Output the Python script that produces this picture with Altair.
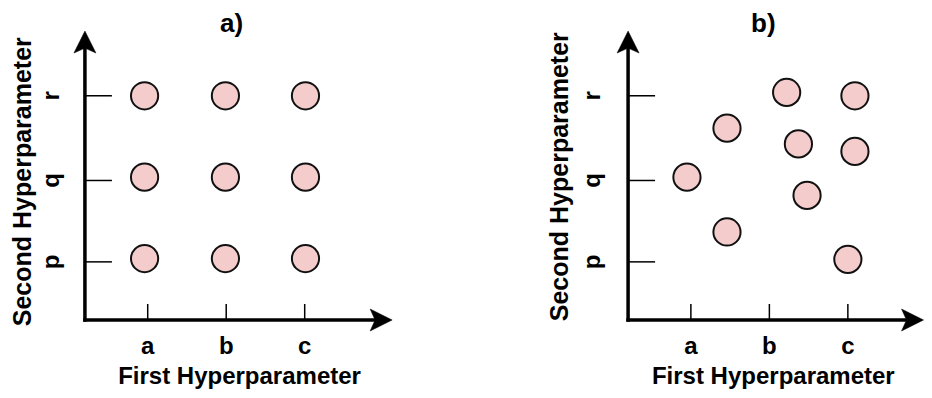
import altair as alt
import pandas as pd

# ---------------- data ----------------
panel_titles = ["a)", "b)"]
x_title = "First Hyperparameter"
y_title = "Second Hyperparameter"
x_tick_values = [1, 2, 3]
x_tick_labels = ["a", "b", "c"]
y_tick_values = [1.0, 1.98, 3.0]
y_tick_labels = ["p", "q", "r"]

# axis extents (data units, panel-local)
axis_x_start = 0.2
axis_x_end = [4.03, 3.88]
axis_y_start = 0.30
axis_y_end = 3.70
panel_offset = [0.0, 6.92]   # horizontal shift of each panel (data units)

# a) grid search
grid_x = [0.96, 1.99, 3.01, 0.96, 1.99, 3.01, 0.96, 1.99, 3.01]
grid_y = [3.0, 3.0, 3.0, 2.02, 2.02, 2.02, 1.04, 1.04, 1.04]

# b) random search
rand_x = [0.95, 1.46, 1.46, 2.22, 2.37, 2.48, 3.09, 3.09, 3.0]
rand_y = [2.02, 2.61, 1.36, 3.04, 2.42, 1.80, 3.0, 2.33, 1.03]

# ---------------- style ----------------
FONT = "Liberation Sans"
W, H = 916, 382
xs = alt.Scale(domain=[-0.78, 10.89], nice=False, zero=False)
ys = alt.Scale(domain=[-0.543, 4.057], nice=False, zero=False)
RIGHT_ARROW = "M 0.6 0 L -1.4 -1 L -0.95 0 L -1.4 1 Z"
UP_ARROW = "M 0 -0.6 L -1 1.4 L 0 0.95 L 1 1.4 Z"
style = [
    dict(title_dx=-3.7, xtitle_dx=4.3, ytitle_dx=-2.9, ytitle_dy=-54, ylab_dy=-26),
    dict(title_dx=-9.2, xtitle_dx=0.8, ytitle_dx=2.1, ytitle_dy=-60.3, ylab_dy=-28),
]
TXT = dict(font=FONT, fontWeight="bold", color="black")


def X(f):
    return alt.X(f, scale=xs, axis=None)


def Y(f):
    return alt.Y(f, scale=ys, axis=None)


layers = []
for i, (px, py) in enumerate([(grid_x, grid_y), (rand_x, rand_y)]):
    off = panel_offset[i]
    st = style[i]
    axes = pd.DataFrame({
        "x0": [axis_x_start + off], "x1": [axis_x_end[i] + off],
        "xm": [(axis_x_start + axis_x_end[i]) / 2 + off],
        "y0": [axis_y_start], "y1": [axis_y_end],
        "ym": [(axis_y_start + axis_y_end) / 2],
        "title": [panel_titles[i]], "xt": [x_title], "yt": [y_title]})
    xt = pd.DataFrame({"x": [v + off for v in x_tick_values],
                       "label": x_tick_labels,
                       "y0": [axis_y_start] * len(x_tick_values)})
    yt = pd.DataFrame({"y": y_tick_values, "label": y_tick_labels,
                       "x0": [axis_x_start + off] * len(y_tick_values)})
    pts = pd.DataFrame({"x": [v + off for v in px], "y": py})

    layers += [
        alt.Chart(xt).mark_rule(color="black", strokeWidth=1.5, yOffset=-16).encode(
            x=X("x:Q"), y=Y("y0:Q"), y2="y0:Q"),
        alt.Chart(yt).mark_rule(color="black", strokeWidth=1.5, x2Offset=27).encode(
            x=X("x0:Q"), x2="x0:Q", y=Y("y:Q")),
        alt.Chart(axes).mark_rule(color="black", strokeWidth=3.5, strokeCap="square").encode(
            x=X("x0:Q"), x2="x1:Q", y=Y("y0:Q")),
        alt.Chart(axes).mark_rule(color="black", strokeWidth=3.5, strokeCap="square").encode(
            x=X("x0:Q"), y=Y("y0:Q"), y2="y1:Q"),
        alt.Chart(axes).mark_point(shape=RIGHT_ARROW, filled=True, fill="black",
                                   stroke="black", strokeWidth=0.5, size=484,
                                   opacity=1).encode(x=X("x1:Q"), y=Y("y0:Q")),
        alt.Chart(axes).mark_point(shape=UP_ARROW, filled=True, fill="black",
                                   stroke="black", strokeWidth=0.5, size=484,
                                   opacity=1).encode(x=X("x0:Q"), y=Y("y1:Q")),
        alt.Chart(pts).mark_point(shape="circle", filled=True, fill="#F4CCCC",
                                  stroke="#111111", strokeWidth=2, size=740,
                                  opacity=1).encode(x=X("x:Q"), y=Y("y:Q")),
        alt.Chart(xt).mark_text(dy=34, baseline="alphabetic", align="center",
                                fontSize=24, **TXT).encode(
            x=X("x:Q"), y=Y("y0:Q"), text="label:N"),
        alt.Chart(yt).mark_text(angle=270, dy=st["ylab_dy"], baseline="alphabetic",
                                align="center", fontSize=24, **TXT).encode(
            x=X("x0:Q"), y=Y("y:Q"), text="label:N"),
        alt.Chart(axes).mark_text(dy=64, dx=st["xtitle_dx"], baseline="alphabetic",
                                  align="center", fontSize=24, **TXT).encode(
            x=X("xm:Q"), y=Y("y0:Q"), text="xt:N"),
        alt.Chart(axes).mark_text(angle=270, dx=st["ytitle_dx"], dy=st["ytitle_dy"],
                                  baseline="alphabetic", align="center",
                                  fontSize=25, **TXT).encode(
            x=X("x0:Q"), y=Y("ym:Q"), text="yt:N"),
        alt.Chart(axes).mark_text(dy=-5.6, dx=st["title_dx"], baseline="alphabetic",
                                  align="center", fontSize=26, **TXT).encode(
            x=X("xm:Q"), y=Y("y1:Q"), text="title:N"),
    ]

chart = alt.layer(*layers).properties(
    width=W, height=H, padding=0,
    autosize=alt.AutoSizeParams(type="none")
).configure_view(stroke=None)

chart.save("out.html", embed_options={"renderer": "svg", "actions": False})
